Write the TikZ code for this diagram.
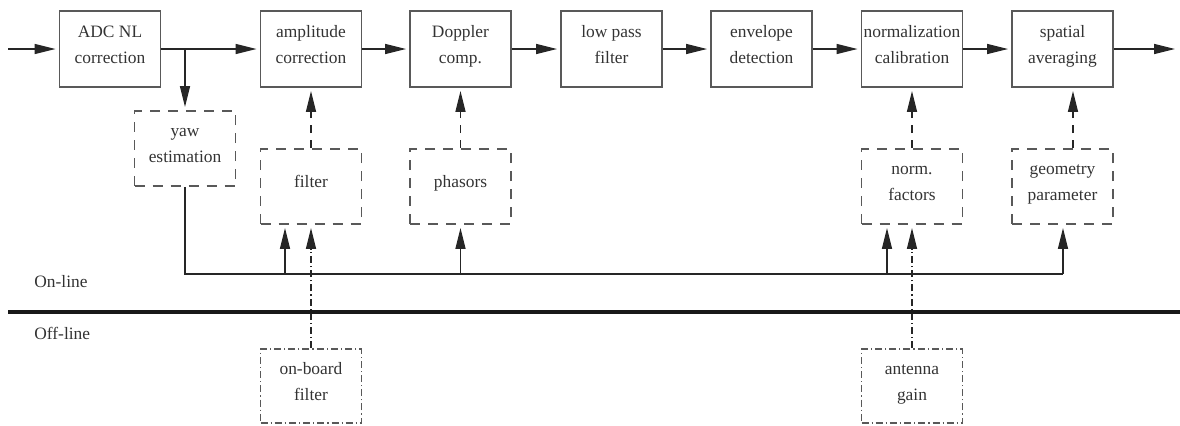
\documentclass[tikz,border=0pt]{standalone}
\usepackage{fontspec}
\setmainfont{Liberation Serif}
\usetikzlibrary{arrows.meta}
\newcommand\lnst{\rule[-5.5pt]{0pt}{12pt}}
\begin{document}
\begin{tikzpicture}[x=0.5pt,y=-0.5pt,
  txt/.style={font=\fontsize{8.7}{13}\selectfont, text=black!80},
  blk/.style={draw=black!65, line width=0.9pt, minimum width=50.5pt, minimum height=38pt, inner sep=0pt, align=center, txt},
  dblk/.style={blk, dash pattern=on 5pt off 4pt, minimum height=37.5pt},
  ddblk/.style={blk, dash pattern=on 3.5pt off 1.5pt on 0.6pt off 1.5pt, minimum height=37pt},
  arr/.style={line width=0.7pt, black!85, -{Triangle[length=10.5pt,width=5pt]}, shorten >=1.5pt},
  darr/.style={arr, dash pattern=on 4pt off 3.5pt},
  ddarr/.style={arr, dash pattern=on 3.5pt off 1.5pt on 0.6pt off 1.5pt},
  lbl/.style={txt, anchor=west, inner sep=0pt}
]
\useasboundingbox (0,0) rectangle (1180,425);
% main chain
\node[blk] (adc)  at (110,49)    {ADC NL\lnst\\correction\lnst};
\node[blk] (amp)  at (311,49)    {amplitude\lnst\\correction\lnst};
\node[blk] (dop)  at (460.5,49)  {Doppler\lnst\\comp.\lnst};
\node[blk] (lpf)  at (611.5,49)  {low pass\lnst\\filter\lnst};
\node[blk] (env)  at (761.5,49)  {envelope\lnst\\detection\lnst};
\node[blk] (norm) at (912,49)    {normalization\lnst\\calibration\lnst};
\node[blk] (spat) at (1062.5,49) {spatial\lnst\\averaging\lnst};
% auxiliary blocks
\node[dblk] (yaw)  at (185,148.5)   {yaw\lnst\\estimation\lnst};
\node[dblk] (filt) at (311,186.5)   {filter\lnst};
\node[dblk] (phas) at (460.5,186.5) {phasors\lnst};
\node[dblk] (nfac) at (912,186.5)   {norm.\lnst\\factors\lnst};
\node[dblk] (geom) at (1062.5,186.5){geometry\lnst\\parameter\lnst};
\node[ddblk] (obf) at (311,386)     {on-board\lnst\\filter\lnst};
\node[ddblk] (ant) at (912,386)     {antenna\lnst\\gain\lnst};
% labels
\node[lbl] (online)  at (34,282) {On-line};
\node[lbl] (offline) at (34,333) {Off-line};
% coordinates
\coordinate (in)  at (8,49);
\coordinate (out) at (1178,49);
\coordinate (br)  at (185,49);
\coordinate (b1)  at (285,274);
\coordinate (b2)  at (460.5,274);
\coordinate (b3)  at (887,274);
\coordinate (b4)  at (1063,274);
\coordinate (g1)  at (1073,0);
\coordinate (dl)  at (8,312);
\coordinate (dr)  at (1180,312);
% main flow
\draw[arr] (in) -- (adc.west);
\draw[arr] (adc.east) -- (amp.west);
\draw[arr] (amp.east) -- (dop.west);
\draw[arr] (dop.east) -- (lpf.west);
\draw[arr] (lpf.east) -- (env.west);
\draw[arr] (env.east) -- (norm.west);
\draw[arr] (norm.east) -- (spat.west);
\draw[arr] (spat.east) -- (out);
% yaw branch
\draw[arr] (br) -- (yaw.north);
% dashed inputs
\draw[darr] (filt.north) -- (amp.south);
\draw[darr] (phas.north) -- (dop.south);
\draw[darr] (nfac.north) -- (norm.south);
\draw[darr] (geom.north -| g1) -- (spat.south -| g1);
% yaw bus
\draw[line width=0.7pt, black!85] (yaw.south) |- (b4);
\draw[arr] (b1) -- (b1 |- filt.south);
\draw[arr] (b2) -- (phas.south);
\draw[arr] (b3) -- (b3 |- nfac.south);
\draw[arr] (b4) -- (b4 |- geom.south);
% off-line inputs
\draw[ddarr] (obf.north) -- (filt.south);
\draw[ddarr] (ant.north) -- (nfac.south);
% divider
\draw[line width=2pt, black!90] (dl) -- (dr);
\end{tikzpicture}
\end{document}
